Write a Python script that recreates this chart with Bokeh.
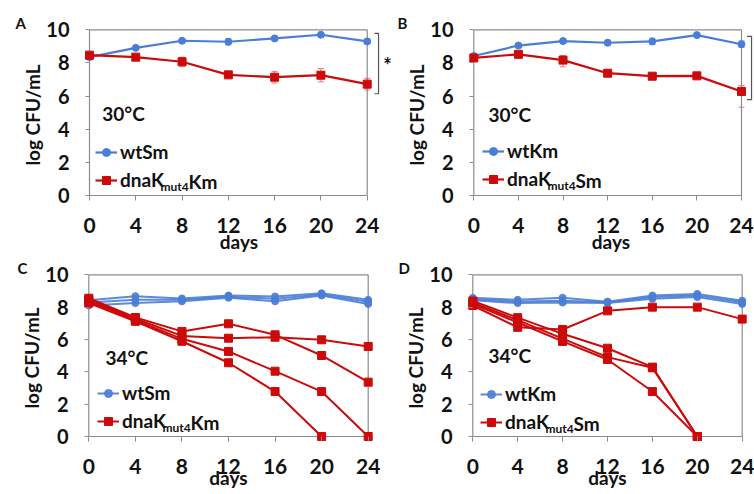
from bokeh.plotting import figure
from bokeh.layouts import column, row
from bokeh.models import (Range1d, FixedTicker, Label, Legend, LegendItem, Whisker,
                          ColumnDataSource, TeeHead)
from bokeh.embed import file_html
from bokeh.resources import INLINE

NaN = float("nan")

# ---------------- data ----------------
days = [0, 4, 8, 12, 16, 20, 24]
y_ticks = [0, 2, 4, 6, 8, 10]

# Panel A (30 °C): wtSm vs dnaK(mut4)Km, mean +/- error
a_wt = [8.35, 8.91, 9.34, 9.28, 9.48, 9.70, 9.30]
a_wt_err = [0.05, 0.10, 0.10, 0.20, 0.12, 0.08, 0.15]
a_mut = [8.47, 8.35, 8.07, 7.28, 7.14, 7.26, 6.72]
a_mut_err = [0.05, 0.10, 0.28, 0.12, 0.35, 0.40, 0.35]

# Panel B (30 °C): wtKm vs dnaK(mut4)Sm
b_wt = [8.42, 9.05, 9.32, 9.22, 9.30, 9.68, 9.13]
b_wt_err = [0.05, 0.10, 0.12, 0.15, 0.20, 0.08, 0.20]
b_mut = [8.30, 8.52, 8.17, 7.38, 7.20, 7.22, 6.28]
b_mut_err_hi = [0.05, 0.08, 0.27, 0.10, 0.08, 0.08, 0.35]
b_mut_err_lo = [0.05, 0.08, 0.40, 0.10, 0.08, 0.08, 0.95]

# Panel C (34 °C): three wtSm replicates, four dnaK(mut4)Km replicates
c_wt = [
    [8.10, 8.25, 8.36, 8.58, 8.36, 8.72, 8.20],
    [8.28, 8.45, 8.45, 8.64, 8.52, 8.78, 8.33],
    [8.42, 8.68, 8.54, 8.72, 8.66, 8.86, 8.45],
]
c_mut = [
    [8.55, 7.36, 6.50, 6.97, 6.29, 5.01, 3.36],
    [8.45, 7.28, 6.22, 6.08, 6.14, 5.98, 5.57],
    [8.35, 7.20, 6.04, 5.26, 4.04, 2.78, 0.00],
    [8.25, 7.12, 5.89, 4.56, 2.78, 0.00, NaN],
]

# Panel D (34 °C): three wtKm replicates, four dnaK(mut4)Sm replicates
d_wt = [
    [8.42, 8.25, 8.28, 8.26, 8.52, 8.62, 8.20],
    [8.50, 8.35, 8.40, 8.30, 8.62, 8.72, 8.30],
    [8.58, 8.45, 8.58, 8.34, 8.72, 8.82, 8.40],
]
d_mut = [
    [8.10, 6.75, 6.62, 7.77, 8.00, 8.00, 7.26],
    [8.38, 7.35, 6.35, 5.46, 4.29, 0.00, NaN],
    [8.28, 7.20, 6.05, 4.91, 4.25, 0.00, NaN],
    [8.20, 7.05, 5.88, 4.76, 2.78, 0.00, NaN],
]

# significance brackets (top, bottom in log CFU/mL)
a_bracket = (9.79, 6.14)
b_bracket = (9.60, 5.79)

# ---------------- style ----------------
BLUE = "#4a7dd6"
RED = "#cc0a0a"
BLUE_ERR = "#8fb0ea"
RED_ERR = "#e87a7a"
AXIS = "#8c8c8c"
TXT = "#111111"
FONT = "Lato"
PAD = 6  # px of padding between frame edge and the 0-lines


def make_panel(ox, oy, W, H, px0, px24, py10, py0, pad_right, pad_top,
               letter, letter_x, xl_standoff, xa_standoff):
    sx = (px24 - px0) / 24.0
    sy = (py0 - py10) / 10.0
    fl = int(round(px0)) - PAD
    mbl = fl - ox
    fr = int(round(px24 + pad_right))
    mbr = ox + W - fr
    ft = int(round(py10 - pad_top))
    mbt = ft - oy
    fb = int(round(py0)) + PAD
    mbb = oy + H - fb
    xr = Range1d((fl - px0) / sx, (fr - px0) / sx)
    yr = Range1d((py0 - fb) / sy, (py0 - ft) / sy)
    p = figure(width=W, height=H, x_range=xr, y_range=yr,
               output_backend="svg", toolbar_location=None,
               min_border_left=mbl, min_border_right=mbr,
               min_border_top=mbt, min_border_bottom=mbb)
    p.outline_line_color = None
    p.grid.visible = False
    p.background_fill_color = "white"
    p.border_fill_color = "white"

    # panel letter as the figure title
    p.title.text = letter
    p.title.align = "left"
    p.title.offset = letter_x - fl
    p.title.standoff = -6
    p.title.text_font = FONT
    p.title.text_font_size = "15px"
    p.title.text_font_style = "bold"
    p.title.text_color = TXT

    xa = p.xaxis[0]
    xa.ticker = FixedTicker(ticks=days)
    xa.axis_line_color = None
    xa.major_tick_line_color = AXIS
    xa.minor_tick_line_color = None
    xa.major_tick_in = PAD
    xa.major_tick_out = 5 - PAD
    xa.major_label_standoff = xl_standoff
    xa.major_label_text_font = FONT
    xa.major_label_text_font_size = "21px"
    xa.major_label_text_font_style = "bold"
    xa.major_label_text_color = TXT
    xa.axis_label = "days"
    xa.axis_label_text_font = FONT
    xa.axis_label_text_font_size = "19px"
    xa.axis_label_text_font_style = "bold"
    xa.axis_label_text_color = TXT
    xa.axis_label_standoff = xa_standoff

    ya = p.yaxis[0]
    ya.ticker = FixedTicker(ticks=y_ticks)
    ya.axis_line_color = None
    ya.major_tick_line_color = AXIS
    ya.minor_tick_line_color = None
    ya.major_tick_in = PAD
    ya.major_tick_out = 4 - PAD
    ya.major_label_standoff = 14
    ya.major_label_text_font = FONT
    ya.major_label_text_font_size = "20px"
    ya.major_label_text_font_style = "bold"
    ya.major_label_text_color = TXT
    ya.axis_label = "log CFU/mL"
    ya.axis_label_text_font = FONT
    ya.axis_label_text_font_size = "19px"
    ya.axis_label_text_font_style = "bold"
    ya.axis_label_text_color = TXT
    ya.axis_label_standoff = -1

    # plot-area border: the two axis lines (0-lines) plus top and right edges
    x0, x1 = days[0], days[-1]
    y0, y1 = y_ticks[0], y_ticks[-1]
    p.segment(x0=[x0, x0, x0, x1], y0=[y0, y0, y1, y0],
              x1=[x1, x0, x1, x1], y1=[y0, y1, y1, y1],
              line_color=AXIS, line_width=1.2)

    def scr(px, py):
        return px - fl, fb - py

    return p, scr


def add_text(p, scr, px, py, text, size, align="left", baseline="middle"):
    x, y = scr(px, py)
    p.add_layout(Label(x=x, y=y, x_units="screen", y_units="screen", text=text,
                       text_font=FONT, text_font_size=size, text_font_style="bold",
                       text_color=TXT, text_align=align, text_baseline=baseline))


def add_legend(p, scr, gx, row2_y, r_wt, r_mut, wt_label, mut_tail):
    lx, ly = scr(gx, row2_y + 10)
    leg = Legend(items=[LegendItem(label=wt_label, renderers=r_wt),
                        LegendItem(label="dnaK", renderers=r_mut)],
                 location=(lx, ly), padding=0, margin=0, spacing=5,
                 glyph_width=22, glyph_height=20, label_height=20,
                 label_standoff=3, background_fill_alpha=0,
                 border_line_color=None, label_text_font=FONT,
                 label_text_font_size="19px", label_text_font_style="bold",
                 label_text_color=TXT)
    p.add_layout(leg)
    tx = gx + 25
    add_text(p, scr, tx + 40, row2_y + 5, "mut4", "12px")
    add_text(p, scr, tx + 68, row2_y, mut_tail, "19px")


def draw_mean(p, y, lo, hi, color, errc, marker, size):
    src = ColumnDataSource(dict(x=days, y=y,
                                lo=[v - e for v, e in zip(y, lo)],
                                hi=[v + e for v, e in zip(y, hi)]))
    p.add_layout(Whisker(source=src, base="x", upper="hi", lower="lo",
                         dimension="height", line_color=errc, line_width=1,
                         upper_head=TeeHead(size=6, line_color=errc, line_width=1),
                         lower_head=TeeHead(size=6, line_color=errc, line_width=1)))
    r1 = p.line("x", "y", source=src, line_color=color, line_width=2.2)
    r2 = p.scatter("x", "y", source=src, marker=marker, size=size,
                   fill_color=color, line_color=color)
    return [r1, r2]


def draw_reps(p, reps, color, marker, size, alpha=1.0):
    first = None
    for y in reps:
        src = ColumnDataSource(dict(x=days, y=y))
        r1 = p.line("x", "y", source=src, line_color=color, line_width=2, line_alpha=alpha)
        r2 = p.scatter("x", "y", source=src, marker=marker, size=size,
                       fill_color=color, line_color=color, fill_alpha=alpha, line_alpha=alpha)
        if first is None:
            first = [r1, r2]
    return first


def bracket(p, top_bottom, bx, arm):
    top, bot = top_bottom
    p.multi_line(xs=[[arm, bx, bx, arm]], ys=[[top, top, bot, bot]],
                 line_color="#555555", line_width=1.2)


TOP_H = 258
BOT_H = 236
W_L = 394
W_R = 360

# ---------------- panel A ----------------
pa, sa = make_panel(0, 0, W_L, TOP_H, 89.0, 366.7, 29.3, 195.0, 27.3, 1.3,
                    "A", 15, 16, -6)
rw = draw_mean(pa, a_wt, a_wt_err, a_wt_err, BLUE, BLUE_ERR, "circle", 7)
rm = draw_mean(pa, a_mut, a_mut_err, a_mut_err, RED, RED_ERR, "square", 8)
bracket(pa, a_bracket, 24.98, 24.63)
add_text(pa, sa, 387, 64, "*", "20px", align="center")
add_text(pa, sa, 101.7, 113.3, "30°C", "19px")
add_legend(pa, sa, 95, 181, rw, rm, "wtSm", "Km")

# ---------------- panel B ----------------
pb, sb = make_panel(W_L, 0, W_R, TOP_H, 473.3, 741.0, 29.3, 195.0, 13.0, 1.3,
                    "B", 397, 16, -6)
rw = draw_mean(pb, b_wt, b_wt_err, b_wt_err, BLUE, BLUE_ERR, "circle", 7)
rm = draw_mean(pb, b_mut, b_mut_err_lo, b_mut_err_hi, RED, RED_ERR, "square", 8)
bracket(pb, b_bracket, 24.90, 24.50)
add_text(pb, sb, 488, 114, "30°C", "19px")
add_legend(pb, sb, 482, 180, rw, rm, "wtKm", "Sm")

# ---------------- panel C ----------------
pc, sc = make_panel(0, TOP_H, W_L, BOT_H, 88.3, 367.7, 274.3, 436.0, 6.0, 1.3,
                    "C", 17, 16, -11)
rw = draw_reps(pc, c_wt, BLUE, "circle", 7, 0.9)
rm = draw_reps(pc, c_mut, RED, "square", 8)
add_text(pc, sc, 105, 356.7, "34°C", "19px")
add_legend(pc, sc, 97, 422, rw, rm, "wtSm", "Km")

# ---------------- panel D ----------------
pd_, sd = make_panel(W_L, TOP_H, W_R, BOT_H, 472.3, 741.7, 274.3, 436.0, 6.0, 1.3,
                     "D", 398, 16, -11)
rw = draw_reps(pd_, d_wt, BLUE, "circle", 7, 0.9)
rm = draw_reps(pd_, d_mut, RED, "square", 8)
add_text(pd_, sd, 488, 355, "34°C", "19px")
add_legend(pd_, sd, 480, 423, rw, rm, "wtKm", "Sm")

layout = column(row(pa, pb), row(pc, pd_))
open("out.html", "w").write(file_html(layout, INLINE))
